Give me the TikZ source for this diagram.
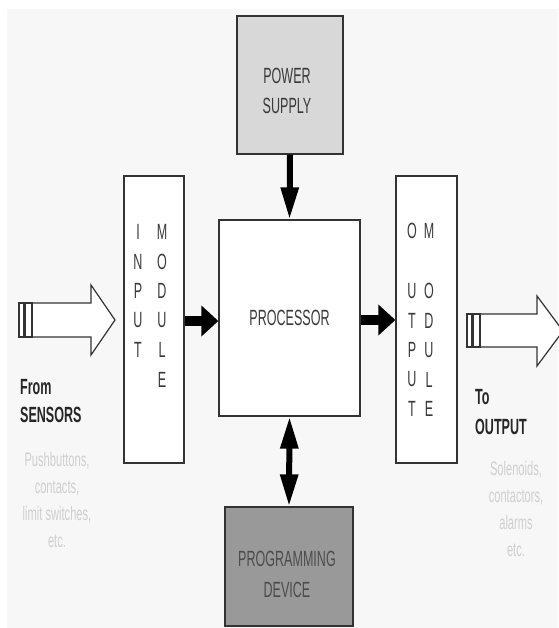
\documentclass[tikz,border=0pt]{standalone}
\usepackage{fontspec}
\setmainfont{Liberation Sans}[FakeStretch=0.57]
\usetikzlibrary{arrows.meta}
\definecolor{bgc}{HTML}{F7F7F7}
\definecolor{psfill}{HTML}{D8D8D8}
\definecolor{pdfill}{HTML}{999999}
\definecolor{linec}{HTML}{333333}
\definecolor{txtc}{HTML}{3A3A3A}
\definecolor{greytxt}{HTML}{CFCFCF}
\tikzset{
  blockbox/.style={draw=linec, line width=1.3pt, inner sep=0pt},
  lbl/.style={text=txtc, font=\fontsize{22}{26}\selectfont, inner sep=0pt},
  biglbl/.style={text=black!85, font=\fontsize{22}{26}\selectfont\bfseries, inner sep=0pt, anchor=west},
  greylbl/.style={text=greytxt, font=\fontsize{19.5}{27}\selectfont, align=center, inner sep=0pt},
  fatarrow/.style={line width=10pt, draw=black, -{Triangle[width=30pt,length=17pt]}, shorten >=0pt},
  thinarrow/.style={line width=6pt, draw=black, -{Triangle[width=17pt,length=32pt]}},
  dblarrow/.style={line width=6pt, draw=black, {Triangle[width=17pt,length=32pt]}-{Triangle[width=17pt,length=32pt]}},
  hollow/.style={draw=linec, line width=1.2pt, fill=white, line join=miter}
}
\begin{document}
\begin{tikzpicture}[x=1pt,y=-1pt]
\useasboundingbox (0,0) rectangle (558,628);
\fill[white] (0,0) rectangle (558,628);
\fill[bgc] (7,9) rectangle (558,628);

% blocks
\node[blockbox, fill=psfill, minimum width=106pt, minimum height=138pt] (ps) at (290,85) {};
\node[blockbox, fill=white, minimum width=141pt, minimum height=196pt, lbl] (proc) at (289.5,318) {PROCESSOR};
\node[blockbox, fill=white, minimum width=60pt, minimum height=287pt] (in) at (154,319.5) {};
\node[blockbox, fill=white, minimum width=61pt, minimum height=287pt] (out) at (426.5,319.5) {};
\node[blockbox, fill=pdfill, minimum width=128pt, minimum height=119pt] (pd) at (289,566.5) {};

% block texts
\node[lbl] (pst1) at (287,76) {POWER};
\node[lbl] (pst2) at (287,106) {SUPPLY};
\node[lbl, text=black!70] (pdt1) at (287,559) {PROGRAMMING};
\node[lbl, text=black!70] (pdt2) at (287,590) {DEVICE};

% input module letters
\foreach \l [count=\i] in {I,N,P,U,T}
  \node[lbl] (inA\i) at (138,{232+29.5*(\i-1)}) {\l};
\foreach \l [count=\i] in {M,O,D,U,L,E}
  \node[lbl] (inB\i) at (162,{232+29.5*(\i-1)}) {\l};

% output module letters
\node[lbl] (outA0) at (412,231) {O};
\node[lbl] (outB0) at (429,231) {M};
\foreach \l [count=\i] in {U,T,P,U,T}
  \node[lbl] (outA\i) at (412,{291+29.5*(\i-1)}) {\l};
\foreach \l [count=\i] in {O,D,U,L,E}
  \node[lbl] (outB\i) at (429,{291+29.5*(\i-1)}) {\l};

% connectors
\draw[fatarrow] (in.east |- 0,321) -- (proc.west |- 0,321);
\draw[fatarrow] (proc.east |- 0,320) -- (out.west |- 0,320);
\draw[thinarrow] (ps.south) -- (proc.north);
\draw[dblarrow] (proc.south) -- (pd.north);

% hollow arrows
\draw[hollow] (32,303) -- (91,303) -- (91,285) -- (115,320) -- (91,355) -- (91,337) -- (32,337) -- cycle;
\draw[hollow] (19,303) rectangle (24,337);
\draw[hollow] (25,303) rectangle (32,337);
\draw[hollow] (480,314) -- (537,314) -- (537,296) -- (563,331) -- (537,366) -- (537,347) -- (480,347) -- cycle;
\draw[hollow] (467,314) rectangle (472,347);
\draw[hollow] (473,314) rectangle (480,347);

% side labels
\node[biglbl] (from) at (20,387) {From};
\node[biglbl] (sens) at (20,415) {SENSORS};
\node[biglbl] (to) at (475,397) {To};
\node[biglbl] (outp) at (475,427) {OUTPUT};
\node[greylbl] (gl) at (57,500) {Pushbuttons,\\contacts,\\limit switches,\\etc.};
\node[greylbl] (gr) at (516,509) {Solenoids,\\contactors,\\alarms\\etc.};
\end{tikzpicture}
\end{document}
